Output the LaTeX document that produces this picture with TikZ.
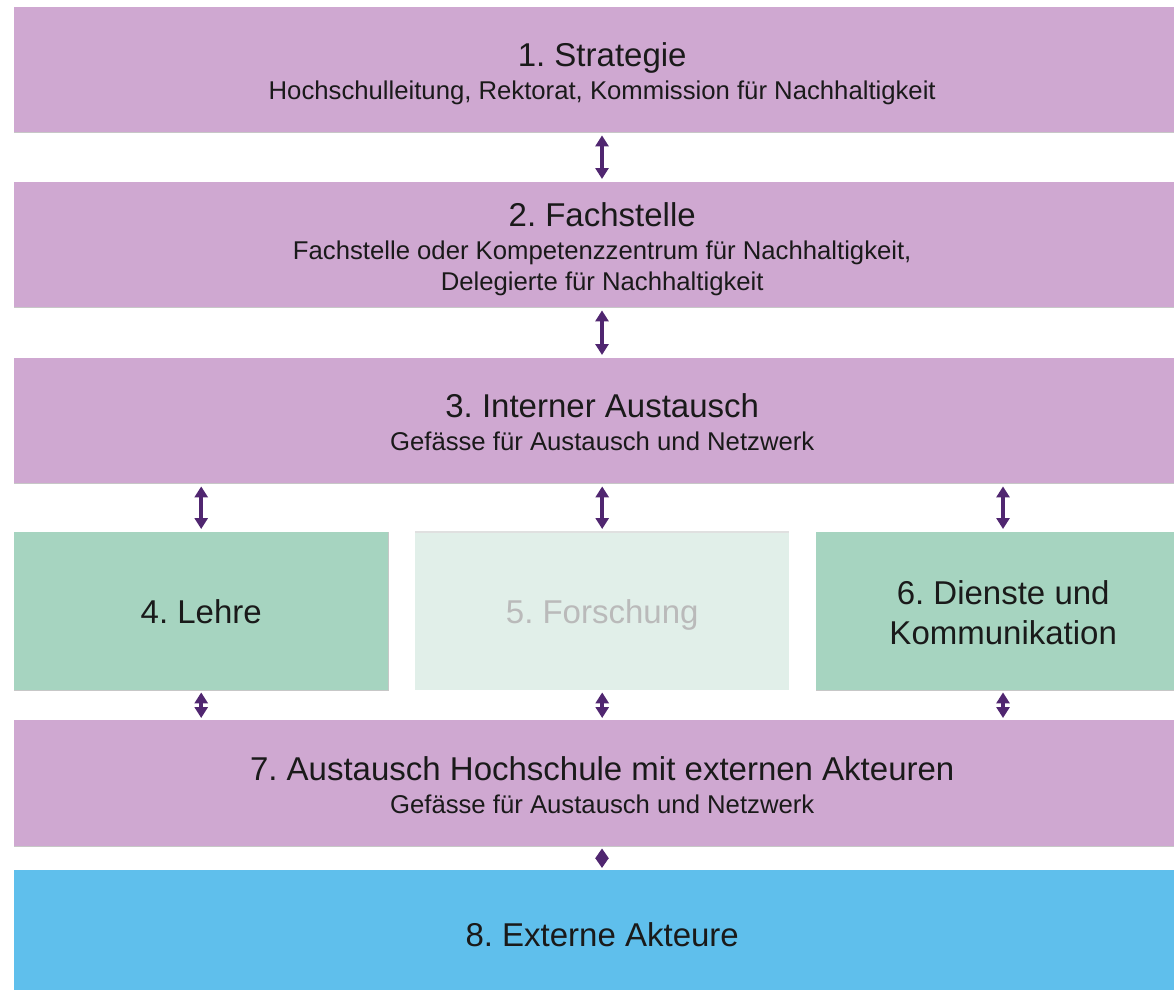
\documentclass[tikz,border=0pt]{standalone}
\usepackage{fontspec}
\setmainfont{Liberation Sans}
\usetikzlibrary{arrows.meta}
\definecolor{lila}{HTML}{CFA8D1}
\definecolor{gruen}{HTML}{A6D4C0}
\definecolor{hgruen}{HTML}{E1EFE9}
\definecolor{blau}{HTML}{5FBFEC}
\definecolor{pfeil}{HTML}{502670}
\definecolor{txt}{HTML}{1A1A1A}
\tikzset{
  box/.style={anchor=north west, inner sep=0pt},
  lbl/.style={inner sep=0pt, align=center, text=txt,
    font=\frenchspacing\fontsize{25.7}{31}\selectfont},
  tt/.style={font=\frenchspacing\fontsize{33}{40}\selectfont},
  dbl/.style={{Triangle[length=11pt,width=13pt]}-{Triangle[length=11pt,width=13pt]},
    line width=4pt, draw=pfeil, shorten <=3pt, shorten >=3pt},
  shadowline/.style={draw=black!22, line width=1.2pt}
}
\newcommand{\ttl}[1]{{\fontsize{33}{40}\selectfont #1}}
\begin{document}
\begin{tikzpicture}[x=1pt,y=-1pt]
\useasboundingbox[fill=white] (0,0) rectangle (1174,989);
% boxes
\node[box, fill=lila, minimum width=1176pt, minimum height=125pt] (b1) at (14,7) {};
\node[box, fill=lila, minimum width=1176pt, minimum height=125pt] (b2) at (14,182) {};
\node[box, fill=lila, minimum width=1176pt, minimum height=125pt] (b3) at (14,358) {};
\node[box, fill=gruen, minimum width=374pt, minimum height=158pt] (b4) at (14,532) {};
\node[box, fill=hgruen, minimum width=374pt, minimum height=158pt] (b5) at (415,532) {};
\node[box, fill=gruen, minimum width=374pt, minimum height=158pt] (b6) at (816,532) {};
\node[box, fill=lila, minimum width=1176pt, minimum height=126pt] (b7) at (14,720) {};
\node[box, fill=blau, minimum width=1176pt, minimum height=125pt] (b8) at (14,870) {};
% texts
\node[lbl, yshift=-6pt] (t1) at (b1.center)
  {\ttl{1. Strategie}\\[2pt]Hochschulleitung, Rektorat, Kommission für Nachhaltigkeit\strut};
\node[lbl, yshift=-6pt] (t2) at (b2.center)
  {\ttl{2. Fachstelle}\\[2pt]Fachstelle oder Kompetenzzentrum für Nachhaltigkeit,\\Delegierte für Nachhaltigkeit\strut};
\node[lbl, yshift=-6pt] (t3) at (b3.center)
  {\ttl{3. Interner Austausch}\\[2pt]Gefässe für Austausch und Netzwerk\strut};
\node[lbl, tt, yshift=-4pt] (t4) at (b4.center) {4. Lehre\strut};
\node[lbl, tt, text=black!27, yshift=-4pt] (t5) at (b5.center) {5. Forschung\strut};
\node[lbl, tt, yshift=-7pt] (t6) at (b6.center) {6. Dienste und\\Kommunikation\strut};
\node[lbl, yshift=-6pt] (t7) at (b7.center)
  {\ttl{7. Austausch Hochschule mit externen Akteuren}\\[2pt]Gefässe für Austausch und Netzwerk\strut};
\node[lbl, tt, yshift=-6pt] (t8) at (b8.center) {8. Externe Akteure\strut};
% subtle edges
\draw[shadowline] (b1.south west) -- (b1.south east);
\draw[shadowline] (b2.south west) -- (b2.south east);
\draw[shadowline] (b3.south west) -- (b3.south east);
\draw[shadowline] (b7.south west) -- (b7.south east);
\draw[shadowline] (b4.south west) -- (b4.south east) -- (b4.north east);
\draw[shadowline, draw=black!12] (b5.north west) -- (b5.north east);
\draw[shadowline] (b6.south west) -- (b6.south east);
% arrows
\draw[dbl] (b1.south -| 602,0) -- (b2.north -| 602,0);
\draw[dbl] (b2.south -| 602,0) -- (b3.north -| 602,0);
\draw[dbl] (b3.south -| b4.north) -- (b4.north);
\draw[dbl] (b3.south -| b5.north) -- (b5.north);
\draw[dbl] (b3.south -| 1003,0) -- (b6.north -| 1003,0);
\draw[dbl, shorten <=2pt, shorten >=2pt] (b4.south) -- (b7.north -| b4.south);
\draw[dbl, shorten <=2pt, shorten >=2pt] (b5.south) -- (b7.north -| b5.south);
\draw[dbl, shorten <=2pt, shorten >=2pt] (b6.south -| 1003,0) -- (b7.north -| 1003,0);
\draw[dbl, shorten <=2pt, shorten >=2pt, {Triangle[length=10pt,width=13pt]}-{Triangle[length=10pt,width=13pt]}] (b7.south -| 602,0) -- (b8.north -| 602,0);
\end{tikzpicture}
\end{document}
